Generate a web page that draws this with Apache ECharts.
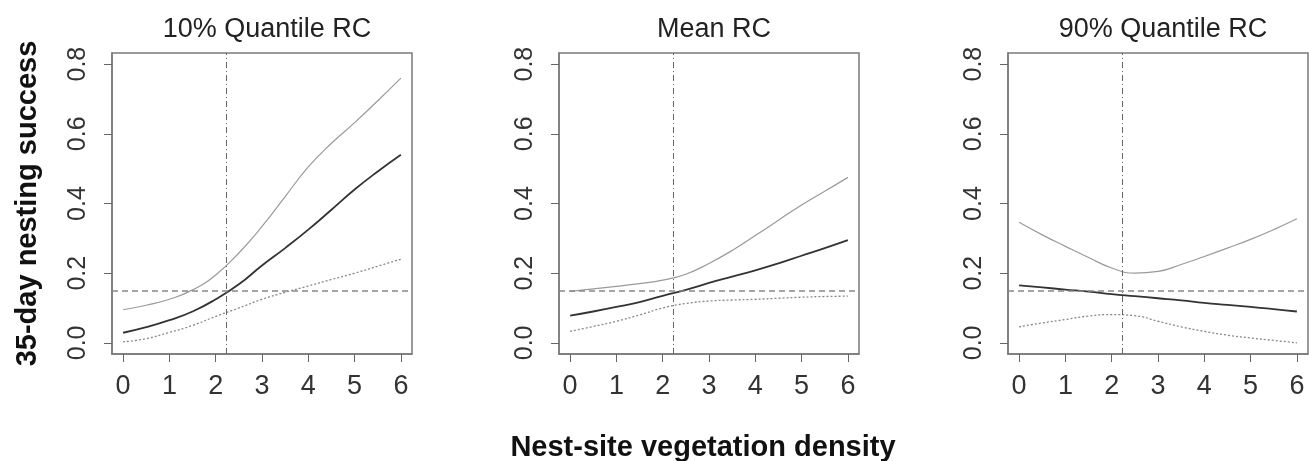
<!DOCTYPE html>
<html>
<head>
<meta charset="utf-8">
<script src="https://cdn.jsdelivr.net/npm/echarts@6/dist/echarts.min.js"></script>
<style>
  html, body { margin: 0; padding: 0; background: #fff; }
  #chart { width: 1309px; height: 461px; }
</style>
</head>
<body>
<div id="chart"></div>
<script>
// vegetation density steps
const xs = [0, 0.5, 1, 1.5, 2, 2.5, 3, 3.5, 4, 4.5, 5, 5.5, 6]
const xTicks = [0, 1, 2, 3, 4, 5, 6]
const yTicks = [0, 0.2, 0.4, 0.6, 0.8]
const panelTitles = ["10% Quantile RC", "Mean RC", "90% Quantile RC"]

// 10% quantile
const q10Fit = [0.029, 0.045, 0.065, 0.09, 0.125, 0.168, 0.222, 0.272, 0.325, 0.382, 0.44, 0.492, 0.54]
const q10Upper = [0.095, 0.108, 0.125, 0.152, 0.195, 0.258, 0.334, 0.42, 0.505, 0.573, 0.632, 0.695, 0.76]
const q10Lower = [0.003, 0.012, 0.03, 0.05, 0.076, 0.1, 0.125, 0.145, 0.163, 0.182, 0.2, 0.22, 0.24]

// mean
const meanFit = [0.078, 0.09, 0.103, 0.117, 0.135, 0.152, 0.172, 0.19, 0.208, 0.228, 0.25, 0.272, 0.295]
const meanUpper = [0.148, 0.155, 0.162, 0.17, 0.18, 0.197, 0.228, 0.265, 0.308, 0.352, 0.396, 0.435, 0.475]
const meanLower = [0.033, 0.047, 0.062, 0.08, 0.1, 0.113, 0.12, 0.123, 0.125, 0.128, 0.131, 0.133, 0.134]

// 90% quantile
const q90Fit = [0.165, 0.159, 0.153, 0.147, 0.14, 0.134, 0.128, 0.122, 0.115, 0.109, 0.103, 0.097, 0.09]
const q90Upper = [0.346, 0.31, 0.277, 0.245, 0.215, 0.2, 0.205, 0.225, 0.248, 0.272, 0.297, 0.325, 0.356]
const q90Lower = [0.046, 0.057, 0.067, 0.077, 0.081, 0.078, 0.062, 0.046, 0.033, 0.022, 0.014, 0.007, 0.0]

// reference lines
const refX = 2.22
const refY = 0.147

const panels = [
  [q10Fit, q10Upper, q10Lower],
  [meanFit, meanUpper, meanLower],
  [q90Fit, q90Upper, q90Lower]
]

const FONT = "Liberation Sans, Arial, sans-serif"
const gridLefts = [112, 559, 1008]

const chart = echarts.init(document.getElementById("chart"))

const toPairs = (ys) => xs.map((x, i) => [x, ys[i]])

const grids = gridLefts.map(left => ({
  left: left,
  top: 53,
  width: 300,
  height: 301,
  show: true,
  borderColor: "#7a7a7a",
  borderWidth: 1.5,
  backgroundColor: "#fff"
}))

const xAxes = gridLefts.map((l, i) => ({
  type: "value",
  gridIndex: i,
  min: -0.24,
  max: 6.24,
  axisLine: { show: true, onZero: false, lineStyle: { color: "#7a7a7a", width: 1.5 } },
  axisTick: { show: true, customValues: xTicks, length: 8, lineStyle: { color: "#666" } },
  axisLabel: {
    customValues: xTicks,
    fontSize: 27,
    fontFamily: FONT,
    color: "#333",
    margin: 19
  },
  splitLine: { show: false }
}))

const yAxes = gridLefts.map((l, i) => ({
  type: "value",
  gridIndex: i,
  min: -0.032,
  max: 0.832,
  axisLine: { show: true, onZero: false, lineStyle: { color: "#7a7a7a", width: 1.5 } },
  axisTick: { show: true, customValues: yTicks, length: 8, lineStyle: { color: "#666" } },
  axisLabel: {
    customValues: yTicks,
    rotate: 90,
    fontSize: 25,
    fontFamily: FONT,
    color: "#333",
    margin: 21,
    formatter: (v) => v.toFixed(1)
  },
  splitLine: { show: false },
  // shared y label sits on the first panel
  name: i === 0 ? "35-day nesting success" : "",
  nameLocation: "middle",
  nameRotate: 90,
  nameGap: 70,
  nameTextStyle: { fontSize: 29, fontWeight: "bold", fontFamily: FONT, color: "#111" }
}))

const series = []
panels.forEach((p, i) => {
  series.push({
    type: "line",
    xAxisIndex: i,
    yAxisIndex: i,
    data: toPairs(p[0]),
    smooth: 0.5,
    showSymbol: false,
    lineStyle: { color: "#333", width: 1.8 },
    markLine: {
      silent: true,
      symbol: "none",
      label: { show: false },
      data: [
        { yAxis: refY, lineStyle: { color: "#888", width: 1.5, type: [6, 4] } },
        { xAxis: refX, lineStyle: { color: "#666", width: 1, type: [6, 3, 1, 3] } }
      ]
    }
  })
  series.push({
    type: "line",
    xAxisIndex: i,
    yAxisIndex: i,
    data: toPairs(p[1]),
    smooth: 0.5,
    showSymbol: false,
    lineStyle: { color: "#9a9a9a", width: 1.2 }
  })
  series.push({
    type: "line",
    xAxisIndex: i,
    yAxisIndex: i,
    data: toPairs(p[2]),
    smooth: 0.5,
    showSymbol: false,
    lineStyle: { color: "#888", width: 1.3, type: [2, 2] }
  })
})

const titles = panelTitles.map((t, i) => ({
  text: t,
  left: gridLefts[i] + 150,
  top: 11,
  textAlign: "center",
  textStyle: { fontSize: 27, fontWeight: "normal", fontFamily: FONT, color: "#222" }
}))
titles.push({
  text: "Nest-site vegetation density",
  left: 698,
  top: 428,
  textAlign: "center",
  textStyle: { fontSize: 29, fontWeight: "bold", fontFamily: FONT, color: "#111" }
})

chart.setOption({
  animation: false,
  title: titles,
  grid: grids,
  xAxis: xAxes,
  yAxis: yAxes,
  series: series
})
</script>
</body>
</html>
